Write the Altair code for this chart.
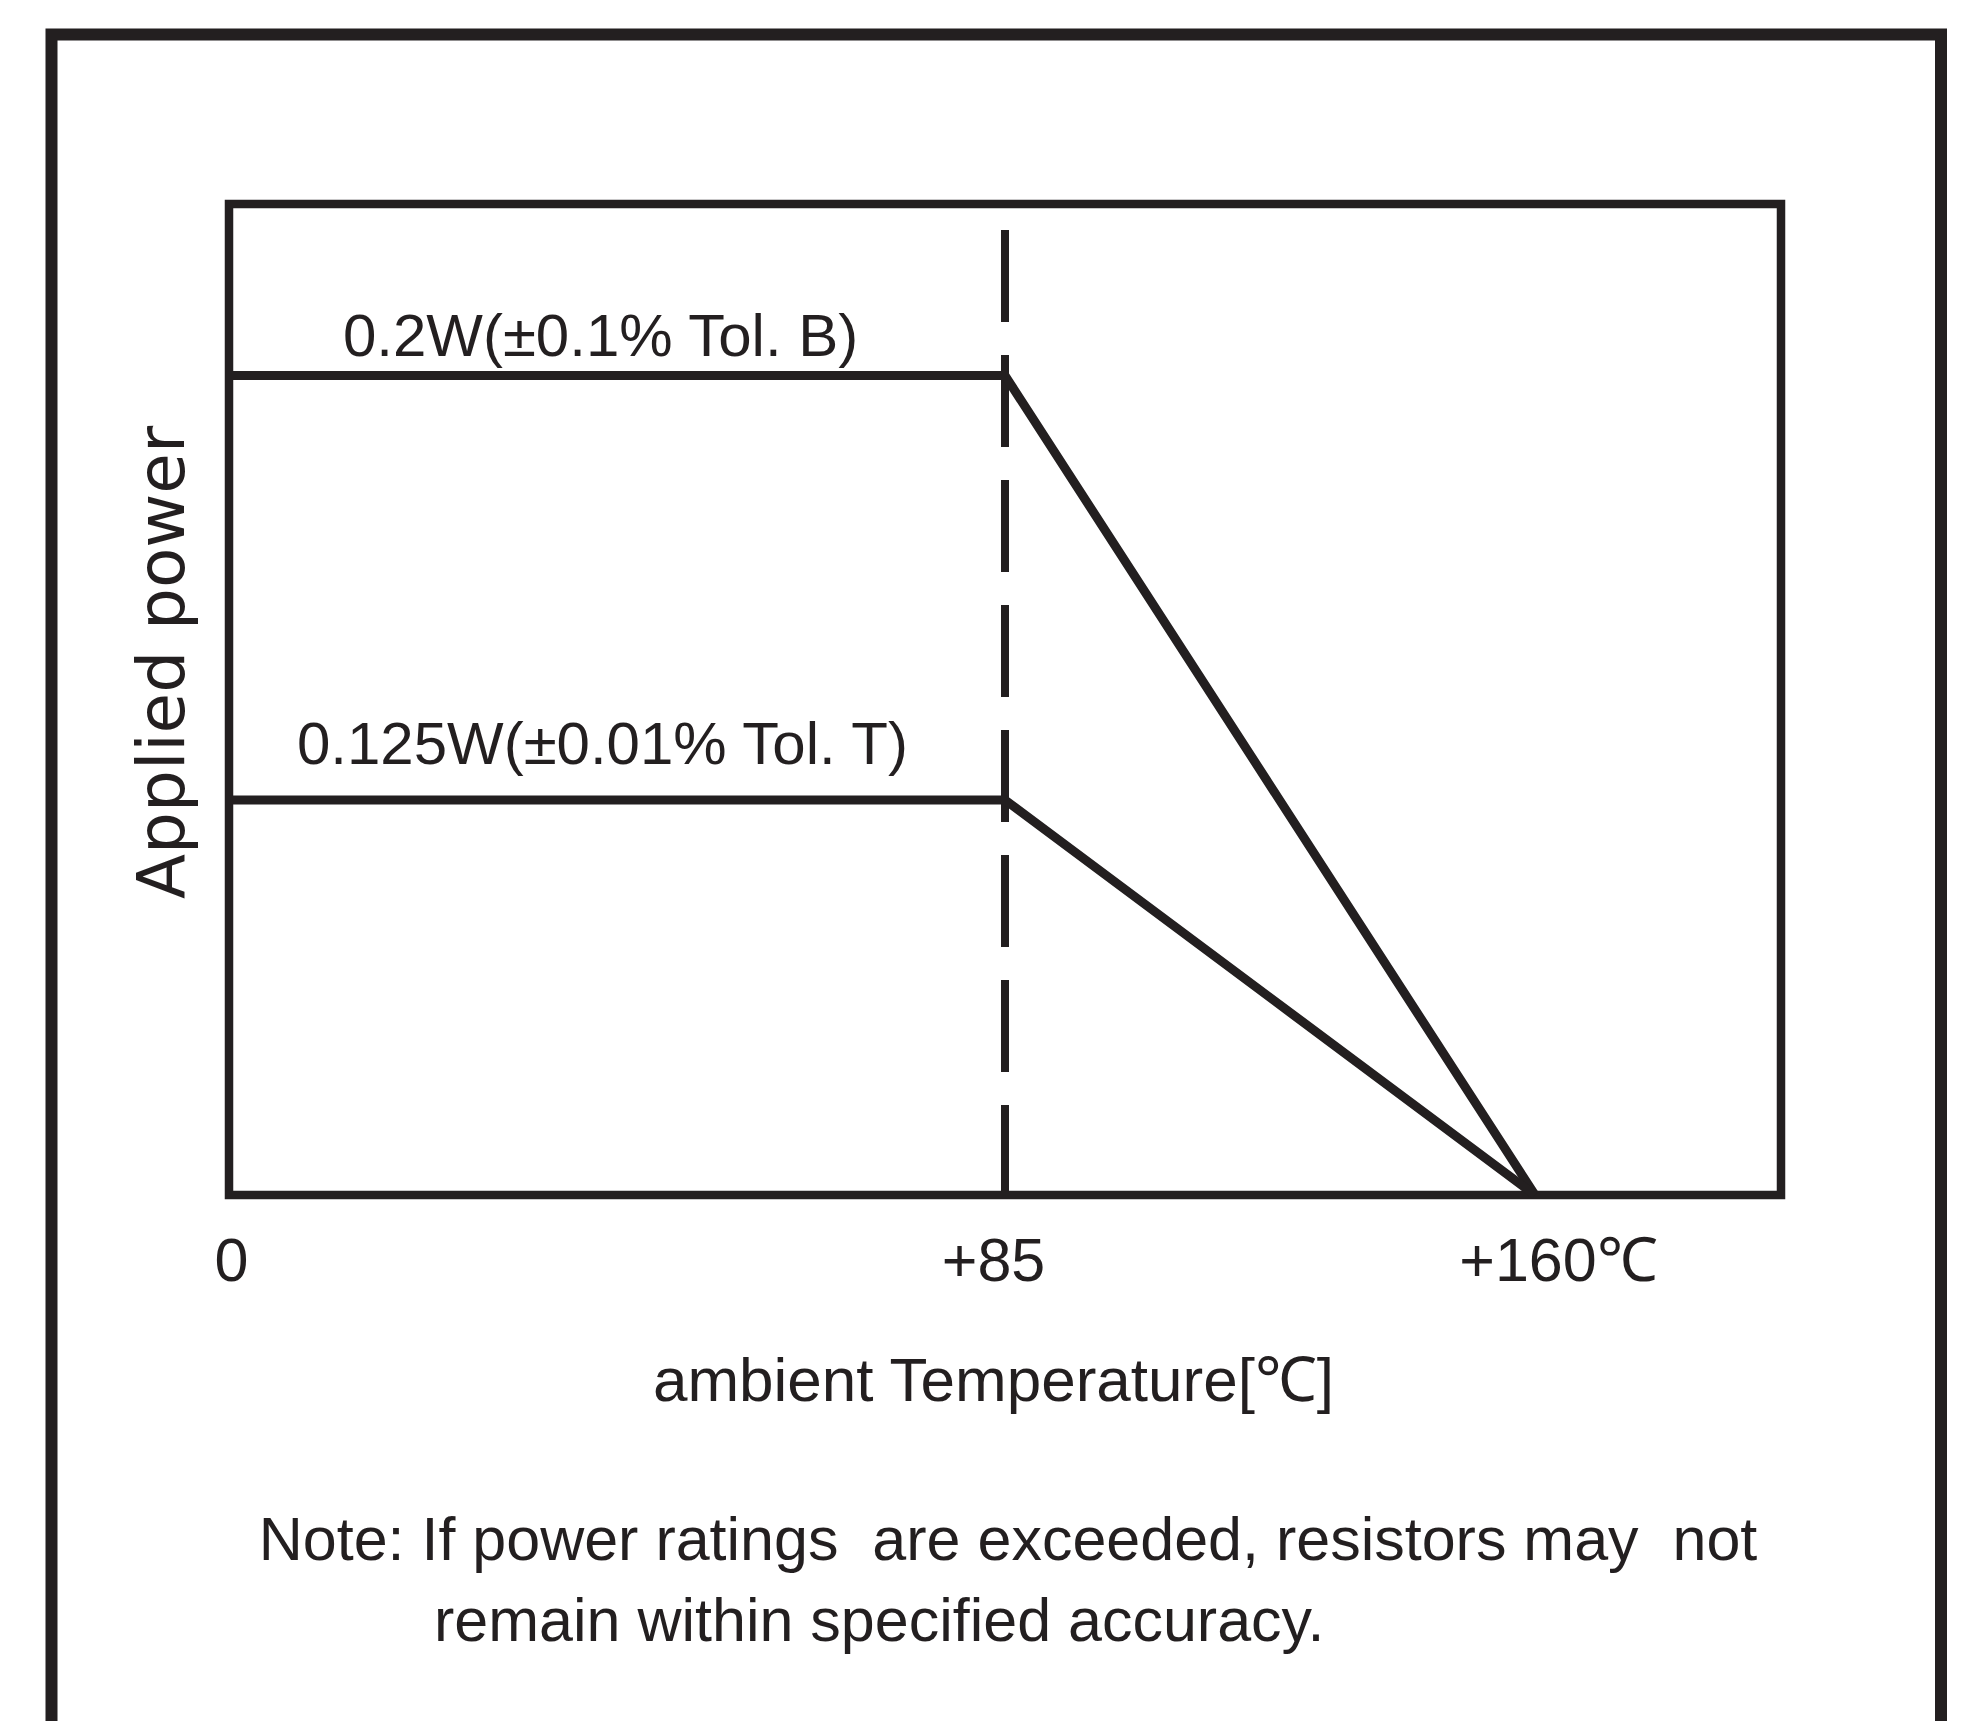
import altair as alt
import pandas as pd

# ---- data ----
temps = [0, 85, 160]
power_b = [0.2, 0.2, 0.0]
power_t = [0.125, 0.125, 0.0]
series_names = ["0.2W(±0.1% Tol. B)", "0.125W(±0.01% Tol. T)"]
label_temp = [40.7, 40.9]
label_power = [0.2, 0.125]
derating_temp = [85]
tick_values = [0, 85, 160]
tick_labels = ["0", "+85", "+160℃"]
x_title = "ambient Temperature[℃]"
y_title = "Applied power"
note_lines = [
    "Note: If power ratings\u00a0 are exceeded, resistors may\u00a0 not",
    "remain within specified accuracy.",
]

# ---- style ----
INK = "#231f20"
NARROW = "Liberation Sans, Arial, sans-serif"
W, H = 1552, 991

# schematic (non-linear) axes: piecewise-linear scales
x_scale = alt.Scale(domain=[0, 85, 160, 200], range=[0, 776, 1306, W], nice=False, zero=False)
y_scale = alt.Scale(domain=[0, 0.125, 0.2, 0.25], range=[H, 596, 171.5, 0], nice=False, zero=False)

rows = []
for t, p in zip(temps, power_b):
    rows.append({"series": series_names[0], "temp": t, "power": p})
for t, p in zip(temps, power_t):
    rows.append({"series": series_names[1], "temp": t, "power": p})
df_lines = pd.DataFrame(rows)

label_expr = " : ".join(
    f"datum.value == {v} ? '{l}'" for v, l in zip(tick_values, tick_labels)
) + " : ''"

x_axis = alt.Axis(
    values=tick_values,
    labelExpr=label_expr,
    domain=False,
    ticks=False,
    tickSize=0,
    grid=False,
    labelFont=NARROW,
    labelFontSize=61,
    labelColor=INK,
    labelPadding=85,
    labelBaseline="alphabetic",
    labelFlush=False,
    labelOverlap=False,
    labelLimit=600,
    labelOffset={
        "condition": [
            {"test": "datum.value == 160", "value": 23},
            {"test": "datum.value == 85", "value": -12},
        ],
        "value": 2,
    },
    title=x_title,
    titleFont=NARROW,
    titleFontSize=62,
    titleFontWeight="normal",
    titleColor=INK,
    titleX=764,
    titleY=205,
    titleAlign="center",
    titleBaseline="alphabetic",
    titleLimit=2000,
)

y_axis = alt.Axis(
    labels=False,
    ticks=False,
    domain=False,
    grid=False,
    title=y_title,
    titleFont="DejaVu Sans",
    titleFontSize=66,
    titleFontWeight="normal",
    titleColor=INK,
    titleAngle=270,
    titleX=-46,
    titleY=458,
    titleAlign="center",
    titleBaseline="alphabetic",
    titleLimit=2000,
)

base = alt.Chart(df_lines)

lines = base.mark_line(color=INK, strokeWidth=9, strokeJoin="miter", strokeCap="butt").encode(
    x=alt.X("temp:Q", scale=x_scale, axis=x_axis),
    y=alt.Y("power:Q", scale=y_scale, axis=y_axis),
    detail="series:N",
)

df_rule = pd.DataFrame({"temp": derating_temp})
rule = alt.Chart(df_rule).mark_rule(
    color=INK, strokeWidth=8, strokeDash=[92, 33], strokeCap="butt"
).encode(
    x=alt.X("temp:Q", scale=x_scale),
    y=alt.value(26),
    y2=alt.value(H),
)

df_lab = pd.DataFrame({"series": series_names, "temp": label_temp, "power": label_power})
lab_b = alt.Chart(df_lab.iloc[[0]]).mark_text(
    font=NARROW, fontSize=60, color=INK, align="center", baseline="alphabetic", dy=-19.5
).encode(
    x=alt.X("temp:Q", scale=x_scale),
    y=alt.Y("power:Q", scale=y_scale),
    text="series:N",
)
lab_t = alt.Chart(df_lab.iloc[[1]]).mark_text(
    font=NARROW, fontSize=60, color=INK, align="center", baseline="alphabetic", dy=-36
).encode(
    x=alt.X("temp:Q", scale=x_scale),
    y=alt.Y("power:Q", scale=y_scale),
    text="series:N",
)

frame = alt.Chart(pd.DataFrame({"k": [0]})).mark_rect(
    fillOpacity=0, stroke=INK, strokeWidth=12
).encode(
    x=alt.value(-177.5), x2=alt.value(1712), y=alt.value(-169.5), y2=alt.value(2000)
)

note1 = alt.Chart(pd.DataFrame({"t": [note_lines[0]]})).mark_text(
    font=NARROW, fontSize=61, color=INK, align="center", baseline="alphabetic"
).encode(text="t:N", x=alt.value(779), y=alt.value(1356))

note2 = alt.Chart(pd.DataFrame({"t": [note_lines[1]]})).mark_text(
    font=NARROW, fontSize=61, color=INK, align="left", baseline="alphabetic"
).encode(text="t:N", x=alt.value(205), y=alt.value(1437))

chart = (
    alt.layer(frame, rule, lines, lab_b, lab_t, note1, note2)
    .properties(
        width=W,
        height=H,
        autosize=alt.AutoSizeParams(type="none"),
        padding={"left": 221, "top": 196, "right": 183, "bottom": 526},
        background="white",
    )
    .configure_view(stroke=INK, strokeWidth=8.5)
)

chart.save("out.html", embed_options={"renderer": "svg", "actions": False})
